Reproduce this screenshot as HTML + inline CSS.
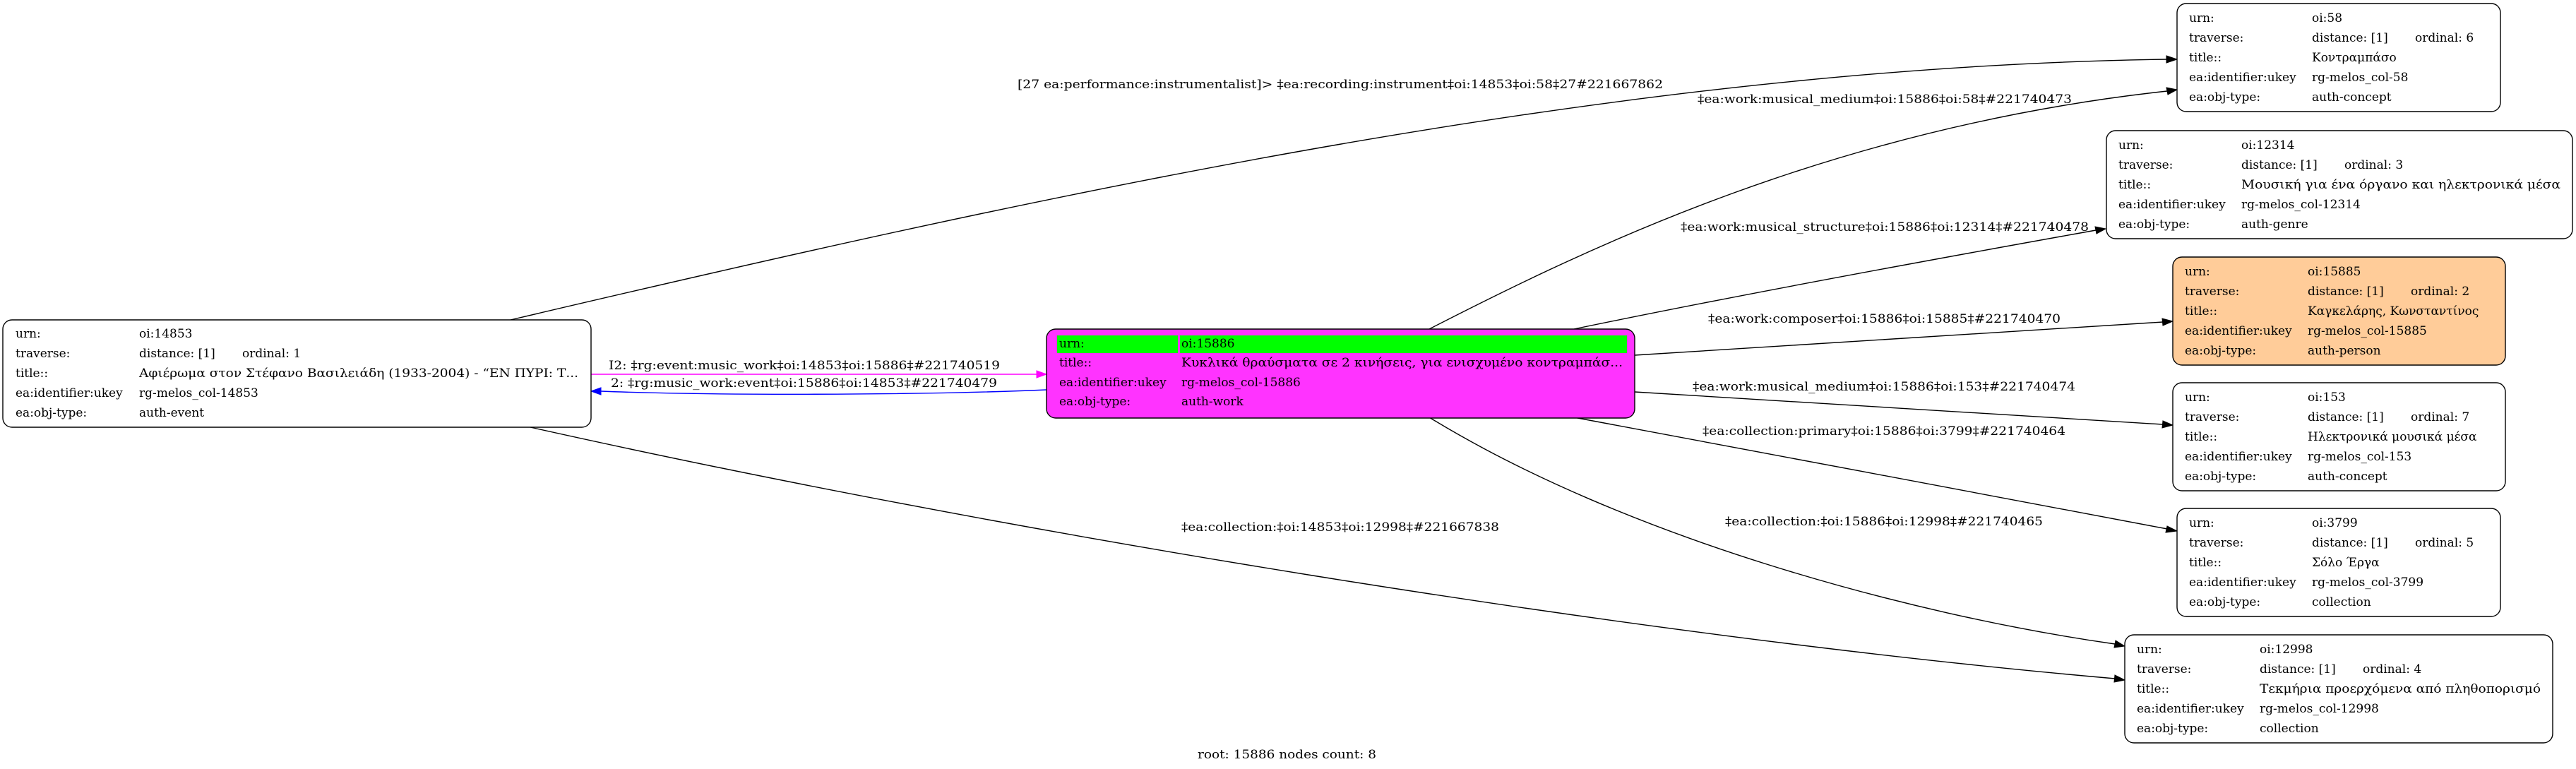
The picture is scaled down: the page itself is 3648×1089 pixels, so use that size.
<!DOCTYPE html>
<html><head><meta charset="utf-8"><style>
html,body{margin:0;padding:0;background:#fff;}
svg{display:block;}
text{font-family:"DejaVu Serif","Liberation Serif",serif;font-size:17px;fill:#000;dominant-baseline:central;}
</style></head><body>
<svg width="3648" height="1089" viewBox="0 0 3648 1089" xmlns="http://www.w3.org/2000/svg">
<g fill="none" stroke="#000" stroke-width="1.4">
<path d="M723,453 C1500,270 2300,95 3069,84"/>
<path d="M2024,466 C2250,350 2600,180 3069,129"/>
<path d="M2229,466 C2450,420 2750,365 2968,326"/>
<path d="M2315,503 L3063,456"/>
<path d="M2315,555 L3063,601"/>
<path d="M2229,591 C2500,640 2800,700 3069,749"/>
<path d="M2024,591 C2300,760 2700,870 2995,912"/>
<path d="M751,605 C1400,750 2300,900 2995,961"/>
<path d="M837,530 L1468,530" stroke="#ff00ff"/>
<path d="M1482,552 C1300,560 1000,560 851,554" stroke="#0000ff"/>
</g>
<g fill="#000" stroke="#000" stroke-width="1">
<polygon points="3083,84 3068,79 3068,89"/>
<polygon points="3083,127 3068,124 3070,134"/>
<polygon points="2982,324 2967,321 2969,331"/>
<polygon points="3077,455 3062,451 3063,461"/>
<polygon points="3077,602 3063,596 3062,606"/>
<polygon points="3083,752 3069,745 3067,754"/>
<polygon points="3009,915 2996,907 2994,917"/>
<polygon points="3009,963 2995,956 2994,966"/>
<polygon points="1482,530 1468,525 1468,535" fill="#ff00ff" stroke="#ff00ff"/>
<polygon points="837,554 851,549 851,559" fill="#0000ff" stroke="#0000ff"/>
</g>
<!-- edge labels -->
<text x="1441" y="120" textLength="914" lengthAdjust="spacingAndGlyphs">[27 ea:performance:instrumentalist]&gt; ‡ea:recording:instrument‡oi:14853‡oi:58‡27#221667862</text>
<text x="2404" y="141" textLength="530" lengthAdjust="spacingAndGlyphs">‡ea:work:musical_medium‡oi:15886‡oi:58‡#221740473</text>
<text x="2380" y="322" textLength="578" lengthAdjust="spacingAndGlyphs">‡ea:work:musical_structure‡oi:15886‡oi:12314‡#221740478</text>
<text x="2419" y="452" textLength="499" lengthAdjust="spacingAndGlyphs">‡ea:work:composer‡oi:15886‡oi:15885‡#221740470</text>
<text x="2397" y="548" textLength="542" lengthAdjust="spacingAndGlyphs">‡ea:work:musical_medium‡oi:15886‡oi:153‡#221740474</text>
<text x="2411" y="611" textLength="514" lengthAdjust="spacingAndGlyphs">‡ea:collection:primary‡oi:15886‡oi:3799‡#221740464</text>
<text x="2443" y="739" textLength="450" lengthAdjust="spacingAndGlyphs">‡ea:collection:‡oi:15886‡oi:12998‡#221740465</text>
<text x="1673" y="747" textLength="450" lengthAdjust="spacingAndGlyphs">‡ea:collection:‡oi:14853‡oi:12998‡#221667838</text>
<text x="862" y="518" textLength="554" lengthAdjust="spacingAndGlyphs">I2: ‡rg:event:music_work‡oi:14853‡oi:15886‡#221740519</text>
<text x="865" y="543" textLength="547" lengthAdjust="spacingAndGlyphs">2: ‡rg:music_work:event‡oi:15886‡oi:14853‡#221740479</text>
<text x="1696" y="1069" textLength="253" lengthAdjust="spacingAndGlyphs">root: 15886 nodes count: 8</text>

<!-- left node -->
<rect x="4" y="453" width="833" height="152" rx="13" fill="#fff" stroke="#000" stroke-width="1.4"/>
<text x="22" y="473">urn:</text><text x="197" y="473">oi:14853</text>
<text x="22" y="501">traverse:</text><text x="197" y="501">distance: [1]</text><text x="343" y="501">ordinal: 1</text>
<text x="22" y="529">title::</text><text x="197" y="529" textLength="622" lengthAdjust="spacingAndGlyphs">Αφιέρωμα στον Στέφανο Βασιλειάδη (1933-2004) - “ΕΝ ΠΥΡΙ: Τ...</text>
<text x="22" y="557">ea:identifier:ukey</text><text x="197" y="557">rg-melos_col-14853</text>
<text x="22" y="585">ea:obj-type:</text><text x="197" y="585">auth-event</text>

<!-- center node -->
<rect x="1482" y="466" width="833" height="126" rx="13" fill="#ff33ff" stroke="#000" stroke-width="1.4"/>
<rect x="1497" y="475" width="171" height="25" fill="#00ff00"/>
<rect x="1671" y="475" width="633" height="25" fill="#00ff00"/>
<text x="1500" y="487">urn:</text><text x="1673" y="487">oi:15886</text>
<text x="1500" y="514">title::</text><text x="1673" y="514" textLength="625" lengthAdjust="spacingAndGlyphs">Κυκλικά θραύσματα σε 2 κινήσεις, για ενισχυμένο κοντραμπάσ...</text>
<text x="1500" y="542">ea:identifier:ukey</text><text x="1673" y="542">rg-melos_col-15886</text>
<text x="1500" y="569">ea:obj-type:</text><text x="1673" y="569">auth-work</text>

<!-- oi:58 -->
<rect x="3083" y="5" width="458" height="153" rx="13" fill="#fff" stroke="#000" stroke-width="1.4"/>
<text x="3100" y="26">urn:</text><text x="3274" y="26">oi:58</text>
<text x="3100" y="54">traverse:</text><text x="3274" y="54">distance: [1]</text><text x="3420" y="54">ordinal: 6</text>
<text x="3100" y="82">title::</text><text x="3274" y="82">Κοντραμπάσο</text>
<text x="3100" y="110">ea:identifier:ukey</text><text x="3274" y="110">rg-melos_col-58</text>
<text x="3100" y="138">ea:obj-type:</text><text x="3274" y="138">auth-concept</text>

<!-- oi:12314 -->
<rect x="2983" y="185" width="660" height="153" rx="13" fill="#fff" stroke="#000" stroke-width="1.4"/>
<text x="3000" y="206">urn:</text><text x="3174" y="206">oi:12314</text>
<text x="3000" y="234">traverse:</text><text x="3174" y="234">distance: [1]</text><text x="3320" y="234">ordinal: 3</text>
<text x="3000" y="262">title::</text><text x="3174" y="262" textLength="452" lengthAdjust="spacingAndGlyphs">Μουσική για ένα όργανο και ηλεκτρονικά μέσα</text>
<text x="3000" y="290">ea:identifier:ukey</text><text x="3174" y="290">rg-melos_col-12314</text>
<text x="3000" y="318">ea:obj-type:</text><text x="3174" y="318">auth-genre</text>

<!-- oi:15885 -->
<rect x="3077" y="364" width="471" height="153" rx="13" fill="#ffcc99" stroke="#000" stroke-width="1.4"/>
<text x="3094" y="385">urn:</text><text x="3268" y="385">oi:15885</text>
<text x="3094" y="413">traverse:</text><text x="3268" y="413">distance: [1]</text><text x="3414" y="413">ordinal: 2</text>
<text x="3094" y="441">title::</text><text x="3268" y="441">Καγκελάρης, Κωνσταντίνος</text>
<text x="3094" y="469">ea:identifier:ukey</text><text x="3268" y="469">rg-melos_col-15885</text>
<text x="3094" y="497">ea:obj-type:</text><text x="3268" y="497">auth-person</text>

<!-- oi:153 -->
<rect x="3077" y="542" width="471" height="153" rx="13" fill="#fff" stroke="#000" stroke-width="1.4"/>
<text x="3094" y="563">urn:</text><text x="3268" y="563">oi:153</text>
<text x="3094" y="591">traverse:</text><text x="3268" y="591">distance: [1]</text><text x="3414" y="591">ordinal: 7</text>
<text x="3094" y="619">title::</text><text x="3268" y="619">Ηλεκτρονικά μουσικά μέσα</text>
<text x="3094" y="647">ea:identifier:ukey</text><text x="3268" y="647">rg-melos_col-153</text>
<text x="3094" y="675">ea:obj-type:</text><text x="3268" y="675">auth-concept</text>

<!-- oi:3799 -->
<rect x="3083" y="720" width="458" height="153" rx="13" fill="#fff" stroke="#000" stroke-width="1.4"/>
<text x="3100" y="741">urn:</text><text x="3274" y="741">oi:3799</text>
<text x="3100" y="769">traverse:</text><text x="3274" y="769">distance: [1]</text><text x="3420" y="769">ordinal: 5</text>
<text x="3100" y="797">title::</text><text x="3274" y="797">Σόλο Έργα</text>
<text x="3100" y="825">ea:identifier:ukey</text><text x="3274" y="825">rg-melos_col-3799</text>
<text x="3100" y="853">ea:obj-type:</text><text x="3274" y="853">collection</text>

<!-- oi:12998 -->
<rect x="3009" y="899" width="606" height="153" rx="13" fill="#fff" stroke="#000" stroke-width="1.4"/>
<text x="3026" y="920">urn:</text><text x="3200" y="920">oi:12998</text>
<text x="3026" y="948">traverse:</text><text x="3200" y="948">distance: [1]</text><text x="3346" y="948">ordinal: 4</text>
<text x="3026" y="976">title::</text><text x="3200" y="976" textLength="398" lengthAdjust="spacingAndGlyphs">Τεκμήρια προερχόμενα από πληθοπορισμό</text>
<text x="3026" y="1004">ea:identifier:ukey</text><text x="3200" y="1004">rg-melos_col-12998</text>
<text x="3026" y="1032">ea:obj-type:</text><text x="3200" y="1032">collection</text>
</svg>
</body></html>
